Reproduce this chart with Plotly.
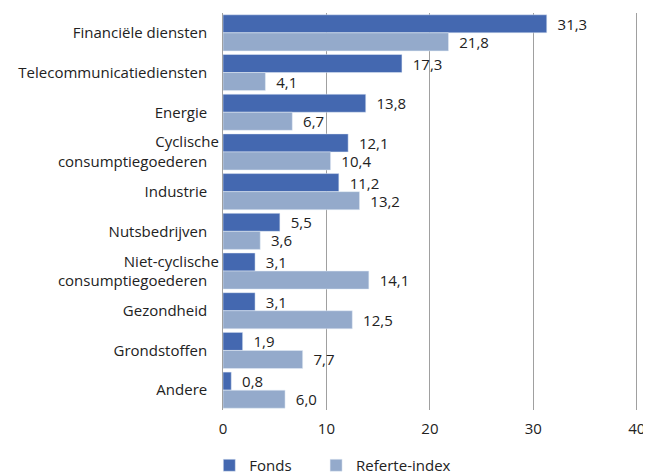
import plotly.graph_objects as go

categories = ["Financiële diensten", "Telecommunicatiediensten", "Energie",
              "Cyclische<br>consumptiegoederen", "Industrie", "Nutsbedrijven",
              "Niet-cyclische<br>consumptiegoederen", "Gezondheid", "Grondstoffen", "Andere"]
fonds = [31.3, 17.3, 13.8, 12.1, 11.2, 5.5, 3.1, 3.1, 1.9, 0.8]
referte = [21.8, 4.1, 6.7, 10.4, 13.2, 3.6, 14.1, 12.5, 7.7, 6.0]
x_ticks = [0, 10, 20, 30, 40]

font_family = "Open Sans, Noto Sans, sans-serif"


def fmt(v):
    return "  " + f"{v:.1f}".replace(".", ",")


fig = go.Figure()
fig.add_trace(go.Bar(y=categories, x=fonds, orientation="h", name="Fonds" + "\u00a0" * 5,
                     marker_color="#4468B0", text=[fmt(v) for v in fonds],
                     textposition="outside", cliponaxis=False, constraintext="none",
                     textfont=dict(size=15, color="#222")))
fig.add_trace(go.Bar(y=categories, x=referte, orientation="h", name="Referte-index",
                     marker_color="#94AACB", text=[fmt(v) for v in referte],
                     textposition="outside", cliponaxis=False, constraintext="none",
                     textfont=dict(size=15, color="#222")))

fig.update_layout(
    width=651, height=474,
    margin=dict(l=215, r=21, t=5, b=72),
    barmode="group", bargap=0.09, bargroupgap=0,
    plot_bgcolor="white", paper_bgcolor="white",
    font=dict(family=font_family, size=15, color="#222"),
    separators=", ",
    showlegend=True,
    legend=dict(orientation="h", x=-0.033, y=0.0, xref="paper", yref="container",
                xanchor="left", yanchor="bottom",
                font=dict(size=15), itemwidth=30, traceorder="normal"),
)
fig.update_xaxes(range=[0, 40.12], tickvals=x_ticks, showgrid=True, gridcolor="#a0a0a0",
                 gridwidth=1.2, zeroline=False, showline=False, ticks="", ticklen=0,
                 tickfont=dict(size=15), automargin=False, ticklabelstandoff=8)
fig.update_yaxes(autorange="reversed", showline=True, linecolor="#a0a0a0", linewidth=1.2,
                 ticks="", tickfont=dict(size=15), ticksuffix="   ", automargin=False)

fig.write_html("out.html")
